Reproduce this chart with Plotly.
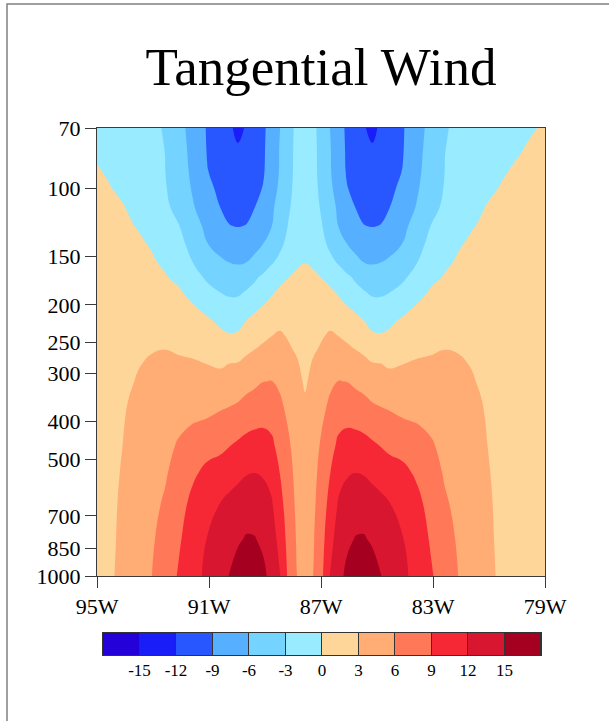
import numpy as np
import plotly.graph_objects as go

# ---------------------------------------------------------------------------
# Data: axisymmetric tangential wind (m/s) on a radius / pressure grid
# ---------------------------------------------------------------------------
title_text = "Tangential Wind"

center_lon = -87.57  # storm centre longitude (deg E)

pressure_hpa = [70, 80, 90, 100, 112, 125, 140, 155, 170, 185, 200, 220,
                240, 260, 285, 315, 350, 400, 460, 540, 650, 800, 1000]

radius_deg = [0.0, 0.3, 0.6, 0.9, 1.2, 1.5, 1.8, 2.1, 2.4, 2.7, 3.0, 3.5,
              4.0, 4.5, 5.0, 5.5, 6.0, 6.5, 7.0, 7.5, 8.0, 8.6]

# one list per radius, values ordered like pressure_hpa (top -> surface)
wind_by_radius = [
    [-1.6, -1.5, -1.4, -1.3, -1.2, -0.9, -0.6, -0.05, 0.5, 0.9, 1.2, 1.5, 1.8, 2.0, 2.3, 2.7, 3.2, 3.8, 4.2, 4.4, 4.6, 4.7, 4.8],
    [-2.4, -2.3, -2.3, -2.2, -2.0, -1.6, -1.1, -0.4, 0.4, 0.9, 1.3, 1.8, 2.2, 2.7, 3.3, 3.7, 4.2, 4.6, 4.9, 5.2, 5.5, 5.8, 6.05],
    [-4.1, -4.0, -3.9, -3.7, -3.35, -2.9, -2.3, -1.5, -0.05, 0.9, 1.5, 2.2, 2.8, 3.3, 3.9, 4.5, 5.0, 5.8, 6.4, 7.0, 7.5, 8.0, 8.5],
    [-6.05, -5.85, -5.8, -5.5, -5.0, -4.5, -3.5, -2.4, -0.9, 0.5, 1.3, 2.4, 3.3, 3.9, 4.6, 5.4, 6.3, 7.0, 7.8, 8.95, 10.0, 11.1, 12.2],
    [-7.9, -7.7, -7.6, -7.2, -6.5, -6.1, -4.9, -3.3, -1.6, -0.4, 0.7, 1.9, 2.95, 4.0, 5.0, 6.05, 6.9, 8.2, 9.7, 11.0, 12.3, 13.3, 14.2],
    [-9.5, -9.4, -9.3, -8.9, -7.8, -6.9, -5.95, -4.2, -2.6, -1.5, -0.05, 1.3, 2.4, 3.5, 4.6, 5.95, 7.2, 8.6, 10.1, 11.7, 13.2, 14.5, 15.6],
    [-10.6, -10.4, -10.1, -9.7, -9.05, -7.7, -6.8, -5.3, -3.3, -2.4, -0.9, 0.9, 2.1, 2.95, 4.3, 5.5, 6.7, 8.4, 10.2, 11.95, 13.8, 15.1, 16.3],
    [-11.8, -11.3, -10.8, -10.3, -9.6, -8.95, -7.4, -6.05, -4.2, -2.85, -1.6, 0.05, 1.3, 2.5, 3.7, 4.9, 6.4, 8.0, 10.0, 11.8, 13.6, 15.2, 16.6],
    [-12.6, -11.7, -11.1, -10.5, -9.8, -9.1, -7.6, -6.25, -4.7, -3.4, -2.3, -0.8, 0.35, 1.8, 3.2, 4.45, 5.75, 7.6, 9.4, 11.4, 13.0, 14.6, 16.3],
    [-11.6, -11.2, -10.7, -10.1, -9.6, -8.95, -7.3, -6.05, -4.6, -3.45, -2.3, -0.9, 0.2, 1.6, 3.1, 4.3, 5.5, 7.0, 8.9, 10.8, 12.7, 13.9, 15.1],
    [-10.7, -10.4, -10.1, -9.6, -9.1, -8.2, -6.8, -5.7, -4.2, -3.1, -1.9, -0.5, 0.45, 1.4, 2.7, 4.0, 5.2, 6.8, 8.4, 10.2, 12.1, 13.2, 14.1],
    [-9.2, -9.1, -8.9, -8.4, -7.5, -6.6, -5.9, -4.1, -3.3, -2.4, -1.0, 0.4, 1.2, 2.0, 3.02, 4.0, 4.9, 6.2, 7.9, 9.7, 11.0, 12.05, 12.6],
    [-7.1, -6.8, -6.6, -6.3, -5.8, -5.0, -3.9, -3.05, -2.2, -1.0, 0.1, 1.0, 1.7, 2.5, 3.3, 4.1, 4.8, 5.9, 7.2, 8.5, 9.8, 10.4, 11.0],
    [-5.1, -4.9, -4.7, -4.4, -3.8, -2.95, -2.2, -1.5, -0.6, 0.3, 0.9, 1.6, 2.3, 2.8, 3.3, 4.0, 4.6, 5.4, 6.3, 7.1, 7.9, 8.7, 9.3],
    [-3.15, -3.02, -2.95, -2.8, -2.5, -2.0, -1.3, -0.4, 0.2, 0.9, 1.4, 1.9, 2.5, 2.98, 3.4, 3.8, 4.3, 4.8, 5.2, 5.7, 6.3, 7.0, 7.5],
    [-2.6, -2.45, -2.3, -2.1, -1.6, -1.0, -0.15, 0.3, 0.9, 1.4, 1.8, 2.2, 2.6, 2.9, 3.2, 3.5, 3.9, 4.3, 4.7, 5.0, 5.3, 5.6, 5.9],
    [-2.1, -1.9, -1.7, -1.2, -0.6, -0.1, 0.4, 0.8, 1.2, 1.6, 1.9, 2.2, 2.5, 2.7, 2.9, 3.1, 3.4, 3.7, 3.9, 4.1, 4.3, 4.5, 4.7],
    [-1.6, -1.3, -0.8, -0.4, 0.1, 0.4, 0.8, 1.1, 1.4, 1.6, 1.8, 2.0, 2.2, 2.3, 2.5, 2.6, 2.75, 2.9, 3.02, 3.15, 3.3, 3.4, 3.55],
    [-1.15, -0.7, -0.25, 0.1, 0.4, 0.7, 1.0, 1.2, 1.4, 1.5, 1.6, 1.75, 1.85, 1.95, 2.05, 2.15, 2.25, 2.35, 2.45, 2.5, 2.55, 2.6, 2.65],
    [-0.65, -0.25, 0.2, 0.5, 0.75, 0.95, 1.1, 1.25, 1.35, 1.45, 1.5, 1.6, 1.65, 1.7, 1.75, 1.8, 1.85, 1.9, 1.95, 2.0, 2.0, 2.05, 2.1],
    [-0.2, 0.2, 0.5, 0.7, 0.9, 1.0, 1.1, 1.2, 1.25, 1.3, 1.35, 1.4, 1.42, 1.45, 1.47, 1.5, 1.52, 1.54, 1.56, 1.58, 1.6, 1.6, 1.6],
    [0.2, 0.5, 0.7, 0.85, 0.95, 1.05, 1.1, 1.15, 1.2, 1.25, 1.25, 1.3, 1.3, 1.32, 1.34, 1.35, 1.36, 1.37, 1.38, 1.39, 1.4, 1.4, 1.4],
]

contour_levels = [-15, -12, -9, -6, -3, 0, 3, 6, 9, 12, 15]
band_colors = ["#2400d9", "#191df7", "#2957ff", "#57b0ff", "#75d3ff", "#99ebff",
               "#ffd699", "#ffac75", "#ff7857", "#f72836", "#d9162f", "#a60021"]

lon_ticks = [-95, -91, -87, -83, -79]
lon_labels = ["95W", "91W", "87W", "83W", "79W"]
p_ticks = [70, 100, 150, 200, 250, 300, 400, 500, 700, 850, 1000]
p_labels = [str(v) for v in p_ticks]

# ---------------------------------------------------------------------------
# Cross-section grid: west side and east side of the centre share the profile
# ---------------------------------------------------------------------------
r = np.array(radius_deg)
w = np.array(wind_by_radius)
lon = np.concatenate([center_lon - r[:0:-1], center_lon + r])
z = np.concatenate([w[:0:-1], w]).T  # rows = pressure, cols = longitude

serif = "Liberation Serif, Times New Roman, serif"
n_bands = len(band_colors)

fig = go.Figure()

fig.add_trace(go.Contour(
    x=lon, y=pressure_hpa, z=z,
    autocontour=False,
    contours=dict(start=contour_levels[0], end=contour_levels[-1],
                  size=contour_levels[1] - contour_levels[0],
                  coloring="fill", showlines=False),
    colorscale=[[i / (n_bands - 1), c] for i, c in enumerate(band_colors)],
    line=dict(width=0, smoothing=1.3),
    showscale=False, hoverinfo="skip",
))

# label bar drawn as a one-row heatmap of the colour bands
step = contour_levels[1] - contour_levels[0]
edges = [contour_levels[0] - step] + contour_levels + [contour_levels[-1] + step]
mids = [(a + b) / 2 for a, b in zip(edges[:-1], edges[1:])]
step_scale = []
for i, c in enumerate(band_colors):
    step_scale += [[i / n_bands, c], [(i + 1) / n_bands, c]]

fig.add_trace(go.Heatmap(
    x=mids, y=[0], z=[list(range(n_bands))],
    zmin=-0.5, zmax=n_bands - 0.5, colorscale=step_scale,
    showscale=False, xgap=1, xaxis="x2", yaxis="y2", hoverinfo="skip",
))

W, H = 609, 721
ml, mr, mt, mb = 97, 64, 128, 60
pw, ph = W - ml - mr, H - mt - mb


def py(pix):
    return (H - mb - pix) / ph


def px(pix):
    return (pix - ml) / pw


axis_line = "#3a3a3a"

fig.update_layout(
    width=W, height=H, autosize=False,
    margin=dict(l=ml, r=mr, t=mt, b=mb, pad=0),
    paper_bgcolor="white", plot_bgcolor="white",
    font=dict(family=serif, color="black"),
    showlegend=False,
    title=dict(text=title_text, x=0.5, xref="paper", xanchor="center",
               y=1 - 66 / H, yref="container", yanchor="middle",
               font=dict(family=serif, size=53, color="black")),
    xaxis=dict(
        range=[lon_ticks[0], lon_ticks[-1]], tickvals=lon_ticks, ticktext=lon_labels,
        ticks="outside", ticklen=11, tickwidth=1, tickcolor=axis_line,
        showline=True, linecolor=axis_line, linewidth=1, mirror=True,
        showgrid=False, zeroline=False, tickfont=dict(family=serif, size=22),
        domain=[0, 1], anchor="y",
    ),
    yaxis=dict(
        type="log", range=[np.log10(pressure_hpa[-1]), np.log10(pressure_hpa[0])],
        tickvals=p_ticks, ticktext=p_labels,
        ticks="outside", ticklen=11, tickwidth=1, tickcolor=axis_line,
        showline=True, linecolor=axis_line, linewidth=1, mirror=True,
        showgrid=False, zeroline=False, tickfont=dict(family=serif, size=22),
        domain=[py(576), 1], anchor="x",
    ),
    xaxis2=dict(
        range=[edges[0], edges[-1]], tickvals=contour_levels,
        ticktext=[str(v) for v in contour_levels],
        ticks="", showline=True, linecolor="#333", linewidth=1, mirror=True,
        showgrid=False, zeroline=False, tickfont=dict(family=serif, size=17),
        domain=[px(103), px(541)], anchor="y2", fixedrange=True,
    ),
    yaxis2=dict(
        range=[-0.5, 0.5], showticklabels=False, ticks="",
        showline=True, linecolor="#333", linewidth=1, mirror=True,
        showgrid=False, zeroline=False,
        domain=[py(655), py(633)], anchor="x2", fixedrange=True,
    ),
    shapes=[
        # dark backing that shows through the gaps between colour boxes
        dict(type="rect", xref="x2", yref="y2", x0=edges[0], x1=edges[-1],
             y0=-0.5, y1=0.5, fillcolor="#333", line=dict(width=0), layer="below"),
        # page frame
        dict(type="rect", xref="paper", yref="paper",
             x0=px(7), x1=px(640), y0=py(760), y1=py(4),
             line=dict(color="#808080", width=1.5), fillcolor="rgba(0,0,0,0)",
             layer="below"),
    ],
)

fig.write_html("out.html", config={"displayModeBar": False})
